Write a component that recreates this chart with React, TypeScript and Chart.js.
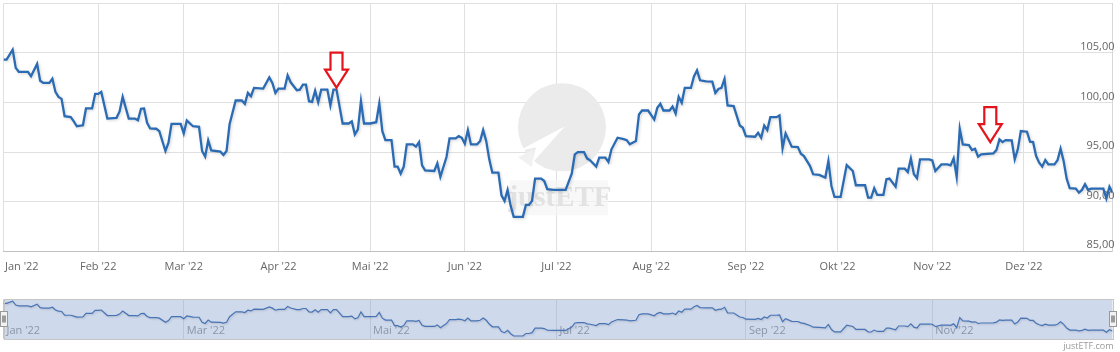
import React, { useEffect, useRef } from "react";
import { Chart, registerables } from "chart.js";
Chart.register(...registerables);

// Day of year 2022 (0 = 1 Jan) for each traced vertex of the price line
const days = [
  0, 1, 3, 4, 5, 8, 9, 11, 12, 13,
  15, 16, 17, 18, 19, 20, 22, 23, 24, 26,
  27, 29, 30, 31, 32, 34, 37, 38, 39, 41,
  43, 44, 45, 46, 47, 48, 50, 51, 53, 54,
  55, 58, 59, 60, 62, 64, 65, 66, 67, 68,
  71, 72, 73, 74, 76, 78, 79, 80, 81, 82,
  85, 87, 88, 89, 90, 92, 93, 94, 96, 97,
  98, 99, 100, 101, 102, 103, 104, 106, 107, 108,
  109, 111, 113, 114, 115, 116, 117, 118, 120, 122,
  123, 124, 125, 127, 128, 129, 130, 131, 132, 134,
  135, 136, 137, 138, 141, 142, 143, 145, 146, 148,
  149, 150, 151, 152, 153, 155, 156, 157, 158, 159,
  160, 162, 163, 164, 165, 166, 167, 170, 171, 172,
  173, 174, 176, 177, 178, 180, 184, 186, 187, 188,
  190, 191, 192, 194, 195, 197, 198, 199, 201, 203,
  204, 205, 207, 208, 209, 211, 213, 214, 215, 216,
  218, 219, 220, 221, 222, 223, 225, 226, 227, 228,
  230, 232, 233, 234, 235, 236, 237, 239, 241, 242,
  243, 246, 247, 248, 249, 250, 251, 253, 254, 255,
  256, 258, 260, 261, 262, 264, 265, 267, 269, 270,
  271, 272, 274, 276, 278, 279, 282, 283, 284, 285,
  286, 288, 289, 290, 292, 293, 295, 296, 297, 298,
  299, 300, 303, 304, 305, 307, 309, 310, 311, 312,
  313, 314, 316, 317, 318, 319, 320, 324, 325, 326,
  327, 328, 330, 331, 332, 333, 335, 336, 337, 338,
  339, 340, 341, 342, 344, 345, 346, 347, 348, 349,
  351, 352, 353, 354, 355, 356, 360, 361, 362, 363,
];

const values = [
  104.33, 104.33, 105.33, 103.5, 103.1, 103.1, 102.65, 103.9, 102.2, 101.98,
  101.98, 102.4, 101.07, 100.57, 100.37, 98.62, 98.52, 98.1, 97.6, 97.7,
  99.4, 99.4, 100.87, 100.87, 101.07, 98.38, 98.45, 99.1, 100.57, 98.38,
  98.38, 98.2, 99.36, 99.4, 97.95, 97.38, 97.35, 97.1, 95.1, 95.94,
  97.85, 97.85, 96.88, 98.18, 97.6, 97.55, 95.1, 94.53, 96.17, 95.16,
  95.03, 94.7, 95.1, 97.8, 100.2, 100.2, 99.86, 100.97, 100.63, 101.47,
  101.4, 102.54, 101.98, 100.97, 101.4, 101.4, 102.74, 102.04, 101.24, 101.3,
  101.8, 101.8, 100.13, 100.07, 101.2, 100.03, 101.3, 101.3, 99.7, 101.3,
  101.3, 97.88, 97.88, 98.1, 96.77, 97.28, 100.13, 97.88, 97.88, 98.01,
  99.9, 97.1, 96.2, 96.2, 93.52, 93.52, 92.82, 93.52, 95.77, 95.77,
  95.54, 96.0, 93.65, 93.15, 93.08, 93.85, 92.5, 94.49, 96.37, 96.37,
  96.6, 96.44, 95.84, 97.21, 95.77, 95.77, 96.1, 97.21, 96.1, 94.26,
  92.92, 92.92, 90.63, 90.06, 91.17, 89.56, 88.45, 88.45, 89.66, 89.66,
  90.06, 92.31, 92.31, 92.07, 91.24, 91.17, 91.17, 92.82, 94.76, 94.99,
  94.99, 94.36, 94.16, 93.52, 94.43, 94.43, 93.99, 95.27, 96.44, 96.3,
  96.2, 95.77, 96.1, 98.79, 99.19, 99.19, 98.28, 99.46, 99.87, 99.19,
  99.19, 99.6, 98.89, 100.57, 99.97, 101.47, 101.47, 102.64, 103.25, 102.24,
  102.14, 102.1, 100.97, 101.37, 101.47, 102.38, 99.7, 99.63, 97.68, 97.45,
  96.6, 96.54, 96.95, 96.44, 97.68, 97.21, 98.52, 98.52, 98.69, 95.37,
  96.88, 95.54, 95.5, 94.83, 94.59, 93.58, 92.75, 92.68, 92.42, 94.09,
  91.57, 90.46, 90.46, 93.68, 93.08, 91.64, 91.64, 90.4, 90.4, 91.34,
  90.67, 90.67, 92.24, 92.31, 91.5, 93.32, 93.32, 92.98, 94.33, 92.75,
  92.35, 94.26, 94.26, 94.16, 93.08, 93.75, 93.75, 93.65, 94.36, 92.48,
  97.35, 95.77, 95.7, 95.19, 95.33, 94.53, 94.76, 94.86, 95.19, 96.27,
  96.0, 96.2, 96.17, 94.26, 95.27, 97.11, 97.05, 96.04, 96.0, 94.59,
  93.92, 93.52, 94.19, 93.75, 93.75, 94.16, 95.33, 94.09, 92.31, 91.34,
  91.3, 90.9, 91.17, 91.74, 91.17, 91.3, 91.3, 90.3, 91.5, 90.9,
];

const monthStarts = [0, 31, 59, 90, 120, 151, 181, 212, 243, 273, 304, 334];
const monthLabels = [
  "Jan '22", "Feb '22", "Mar '22", "Apr '22", "Mai '22", "Jun '22",
  "Jul '22", "Aug '22", "Sep '22", "Okt '22", "Nov '22", "Dez '22",
];
const navMonthStarts = [0, 59, 120, 181, 243, 304];
const navMonthLabels = ["Jan '22", "Mar '22", "Mai '22", "Jul '22", "Sep '22", "Nov '22"];
const yGridValues = [85, 90, 95, 100, 105, 110];
const yTickValues = [85, 90, 95, 100, 105];
const yTickLabels = ["85,00", "90,00", "95,00", "100,00", "105,00"];
const markerDays = [109, 323];
const markerTipValues = [101.5, 96.0];
const watermarkText = "justETF";
const creditText = "justETF.com";

const FONT = "'Open Sans', 'DejaVu Sans', sans-serif";

const lineShadow = {
  id: "lineShadow",
  beforeDatasetDraw(chart: any, args: any, opts: any) {
    const ctx = chart.ctx;
    ctx.save();
    ctx.shadowColor = opts.color || "rgba(0,0,0,0.2)";
    ctx.shadowBlur = opts.blur ?? 3;
    ctx.shadowOffsetX = 1;
    ctx.shadowOffsetY = 1;
  },
  afterDatasetDraw(chart: any) {
    chart.ctx.restore();
  },
};

const mainDecor = {
  id: "mainDecor",
  beforeDatasetsDraw(chart: any) {
    const ctx = chart.ctx;
    const ca = chart.chartArea;
    const xs = chart.scales.x;
    const ys = chart.scales.y;
    // watermark
    const cx = (ca.left + ca.right) / 2 + 4;
    const cy = (ca.top + ca.bottom) / 2;
    ctx.save();
    ctx.fillStyle = "rgba(245,245,245,0.7)";
    ctx.fillRect(cx - 52, cy + 53, 98, 35);
    ctx.fillStyle = "#ebebeb";
    ctx.beginPath();
    ctx.arc(cx, cy, 44, 0, Math.PI * 2);
    ctx.fill();
    ctx.fillStyle = "#f1f1f1";
    ctx.beginPath();
    ctx.moveTo(cx - 44, cy + 30);
    ctx.lineTo(cx - 28, cy + 22);
    ctx.lineTo(cx - 30, cy + 40);
    ctx.closePath();
    ctx.fill();
    ctx.fillStyle = "#ffffff";
    ctx.beginPath();
    ctx.moveTo(cx + 3, cy - 1);
    ctx.lineTo(cx - 44, cy + 24);
    ctx.lineTo(cx - 26, cy + 20);
    ctx.lineTo(cx - 30, cy + 36);
    ctx.closePath();
    ctx.fill();
    ctx.font = `bold 29px 'Liberation Serif', 'DejaVu Serif', serif`;
    ctx.fillStyle = "#e2e2e2";
    ctx.textAlign = "center";
    ctx.textBaseline = "alphabetic";
    ctx.fillText(watermarkText, cx - 2, cy + 79);
    ctx.restore();

    // axis labels
    ctx.save();
    ctx.font = `11px ${FONT}`;
    ctx.fillStyle = "#666666";
    ctx.textBaseline = "middle";
    monthStarts.forEach((d, i) => {
      const px = xs.getPixelForValue(d);
      if (i === 0) {
        ctx.textAlign = "left";
        ctx.fillText(monthLabels[i], px + 1.5, ca.bottom + 16);
      } else {
        ctx.textAlign = "center";
        ctx.fillText(monthLabels[i], px, ca.bottom + 16);
      }
    });
    ctx.textAlign = "right";
    yTickValues.forEach((v, i) => {
      const py = ys.getPixelForValue(v);
      ctx.fillText(yTickLabels[i], ca.right + 2, py - 6);
    });
    ctx.restore();
  },
  afterDatasetsDraw(chart: any) {
    const ctx = chart.ctx;
    const xs = chart.scales.x;
    const ys = chart.scales.y;
    ctx.save();
    ctx.fillStyle = "#ffffff";
    ctx.strokeStyle = "#e5141c";
    ctx.lineWidth = 2.2;
    ctx.lineJoin = "miter";
    markerDays.forEach((d, i) => {
      const tx = xs.getPixelForValue(d);
      const ty = ys.getPixelForValue(markerTipValues[i]);
      ctx.beginPath();
      ctx.moveTo(tx, ty);
      ctx.lineTo(tx + 11.5, ty - 18);
      ctx.lineTo(tx + 6, ty - 18);
      ctx.lineTo(tx + 6, ty - 35);
      ctx.lineTo(tx - 6, ty - 35);
      ctx.lineTo(tx - 6, ty - 18);
      ctx.lineTo(tx - 11.5, ty - 18);
      ctx.closePath();
      ctx.fill();
      ctx.stroke();
    });
    ctx.restore();
  },
};

const navDecor = {
  id: "navDecor",
  beforeDraw(chart: any) {
    const ctx = chart.ctx;
    const ca = chart.chartArea;
    ctx.save();
    ctx.fillStyle = "rgb(207,217,236)";
    ctx.fillRect(ca.left, ca.top, ca.right - ca.left, ca.bottom - ca.top);
    ctx.restore();
  },
  beforeDatasetsDraw(chart: any) {
    const ctx = chart.ctx;
    const ca = chart.chartArea;
    const xs = chart.scales.x;
    ctx.save();
    ctx.font = `11px ${FONT}`;
    ctx.fillStyle = "#8c95a8";
    ctx.textAlign = "left";
    ctx.textBaseline = "middle";
    navMonthStarts.forEach((d, i) => {
      ctx.fillText(navMonthLabels[i], xs.getPixelForValue(d) + 3, ca.bottom - 8);
    });
    ctx.restore();
  },
  afterDraw(chart: any) {
    const ctx = chart.ctx;
    const ca = chart.chartArea;
    ctx.save();
    ctx.strokeStyle = "#c6c6c6";
    ctx.lineWidth = 1;
    ctx.strokeRect(
      Math.round(ca.left) + 0.5,
      Math.round(ca.top) + 0.5,
      Math.round(ca.right - ca.left),
      Math.round(ca.bottom - ca.top)
    );
    const mid = Math.round((ca.top + ca.bottom) / 2);
    [ca.left, ca.right].forEach((ex) => {
      const hx = Math.round(ex) - 3.5;
      const hy = mid - 7.5;
      ctx.fillStyle = "#f2f2f2";
      ctx.strokeStyle = "#999999";
      ctx.fillRect(hx, hy, 7, 15);
      ctx.strokeRect(hx, hy, 7, 15);
      ctx.strokeStyle = "#444444";
      ctx.beginPath();
      ctx.moveTo(hx + 2.5, hy + 4);
      ctx.lineTo(hx + 2.5, hy + 11);
      ctx.moveTo(hx + 4.5, hy + 4);
      ctx.lineTo(hx + 4.5, hy + 11);
      ctx.stroke();
    });
    ctx.font = `9px ${FONT}`;
    ctx.fillStyle = "#999999";
    ctx.textAlign = "right";
    ctx.textBaseline = "middle";
    ctx.fillText(creditText, ca.right + 1, ca.bottom + 7);
    ctx.restore();
  },
};

export default function App() {
  const mainRef = useRef<HTMLCanvasElement | null>(null);
  const navRef = useRef<HTMLCanvasElement | null>(null);

  useEffect(() => {
    document.body.style.margin = "0";
    const points = days.map((d, i) => ({ x: d, y: values[i] }));

    const main = new Chart(mainRef.current as HTMLCanvasElement, {
      type: "line",
      data: {
        datasets: [
          {
            data: points,
            borderColor: "#2a6bb4",
            borderWidth: 2.3,
            pointRadius: 0,
            tension: 0,
            fill: false,
          },
        ],
      },
      options: {
        responsive: false,
        animation: false,
        events: [],
        layout: { padding: { left: 3.5, right: 7.5, top: 3.5, bottom: 34 } },
        plugins: {
          legend: { display: false },
          tooltip: { enabled: false },
          lineShadow: { color: "rgba(0,0,0,0.18)", blur: 3 },
        } as any,
        scales: {
          x: {
            type: "linear",
            min: 0,
            max: 363,
            afterBuildTicks: (s: any) => {
              s.ticks = monthStarts.map((v) => ({ value: v }));
            },
            ticks: { display: false },
            grid: { color: "#e0e0e0", drawTicks: false },
            border: { color: "#c0c0c0", width: 1 },
          },
          y: {
            position: "right",
            min: 85,
            max: 110,
            afterBuildTicks: (s: any) => {
              s.ticks = yGridValues.map((v) => ({ value: v }));
            },
            ticks: { display: false },
            grid: { color: "#e0e0e0", drawTicks: false },
            border: { color: "#d8d8d8", width: 1 },
          },
        },
      },
      plugins: [lineShadow, mainDecor],
    });

    const nav = new Chart(navRef.current as HTMLCanvasElement, {
      type: "line",
      data: {
        datasets: [
          {
            data: points,
            borderColor: "#4774b4",
            borderWidth: 1.2,
            pointRadius: 0,
            tension: 0,
            fill: false,
          },
        ],
      },
      options: {
        responsive: false,
        animation: false,
        events: [],
        layout: { padding: { left: 3.5, right: 7.5, top: 14.3, bottom: 13 } },
        plugins: {
          legend: { display: false },
          tooltip: { enabled: false },
          lineShadow: { color: "rgba(0,0,0,0.15)", blur: 2 },
        } as any,
        scales: {
          x: {
            type: "linear",
            min: 0,
            max: 363,
            afterBuildTicks: (s: any) => {
              s.ticks = navMonthStarts.map((v) => ({ value: v }));
            },
            ticks: { display: false },
            grid: { color: "#bcc6da", drawTicks: false },
            border: { display: false },
          },
          y: {
            display: false,
            min: 87,
            max: 106.27,
          },
        },
      },
      plugins: [lineShadow, navDecor],
    });

    return () => {
      main.destroy();
      nav.destroy();
    };
  }, []);

  return (
    <div style={{ position: "relative", width: 1120, height: 352, background: "#fff" }}>
      <canvas
        ref={mainRef}
        width={1120}
        height={285}
        style={{ position: "absolute", left: 0, top: 0, width: 1120, height: 285 }}
      />
      <canvas
        ref={navRef}
        width={1120}
        height={67}
        style={{ position: "absolute", left: 0, top: 285, width: 1120, height: 67 }}
      />
    </div>
  );
}
